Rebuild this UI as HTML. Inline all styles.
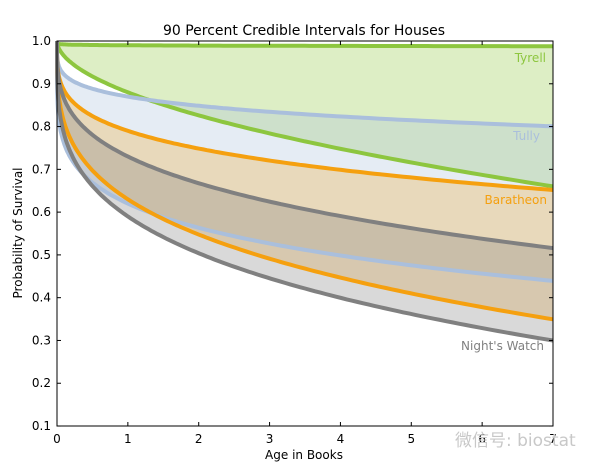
<!DOCTYPE html>
<html><head><meta charset="utf-8"><style>
body{margin:0;background:#fff;}
svg text{font-family:"DejaVu Sans","Liberation Sans","Noto Sans CJK SC",sans-serif;}
</style></head><body>
<svg id="s" width="605" height="471" xmlns="http://www.w3.org/2000/svg">
<rect width="605" height="471" fill="#fff"/>
<g id="fills"></g>
<g id="lines"></g>
<rect x="57" y="41" width="496" height="385" fill="none" stroke="#000" stroke-width="1"/>
<g id="ticks" stroke="#000" stroke-width="1"></g>
<g id="labels" font-size="12" fill="#000"></g>
<text x="304" y="35" font-size="14" text-anchor="middle">90 Percent Credible Intervals for Houses</text>
<text x="304" y="459" font-size="12" text-anchor="middle">Age in Books</text>
<text transform="translate(22,233) rotate(-90)" font-size="12" text-anchor="middle">Probability of Survival</text>
<text x="546" y="62" font-size="12" text-anchor="end" fill="#8dc63f">Tyrell</text>
<text x="540" y="140" font-size="12" text-anchor="end" fill="#aabfdc">Tully</text>
<text x="547" y="204" font-size="12" text-anchor="end" fill="#f5a00f">Baratheon</text>
<text x="544" y="350" font-size="12" text-anchor="end" fill="#808080">Night's Watch</text>
<text x="455" y="446" font-size="17" fill="#c8c8c8">微信号: biostat</text>
</svg>
<script>
var X=function(t){return 57+t*496/7;},Y=function(v){return 41+(1-v)*427.8;};
function curve(a,p,c){var pts=[];for(var i=0;i<=140;i++){var t=7*Math.pow(i/140,2);var v=(c||1)-a*Math.pow(t,p);pts.push([X(t),Y(v)]);}return pts;}
var houses=[
 {c:'#8dc63f',f:'rgba(141,198,63,0.3)',u:[0.01,0.1],l:[0.12,0.535]},
 {c:'#aabfdc',f:'rgba(170,191,220,0.3)',u:[0.13,0.22],l:[0.38,0.2]},
 {c:'#f5a00f',f:'rgba(245,160,15,0.25)',u:[0.21,0.26],l:[0.37,0.29]},
 {c:'#808080',f:'rgba(128,128,128,0.3)',u:[0.27,0.30],l:[0.41,0.275]}
];
var F='',L='';
houses.forEach(function(h){
 var up=curve(h.u[0],h.u[1]),lo=curve(h.l[0],h.l[1]);
 var d='M'+up.map(function(p){return p[0].toFixed(1)+','+p[1].toFixed(1)}).join('L');
 var dl='M'+lo.map(function(p){return p[0].toFixed(1)+','+p[1].toFixed(1)}).join('L');
 var rl=lo.slice().reverse().map(function(p){return p[0].toFixed(1)+','+p[1].toFixed(1)}).join('L');
 F+='<path d="'+d+'L'+rl+'Z" fill="'+h.f+'"/>';
 L+='<path d="'+d+'" fill="none" stroke="'+h.c+'" stroke-width="4"/><path d="'+dl+'" fill="none" stroke="'+h.c+'" stroke-width="4"/>';
});
document.getElementById('fills').innerHTML=F;
document.getElementById('lines').innerHTML=L;
var T='',Lb='';
for(var i=0;i<=7;i++){var x=X(i);T+='<line x1="'+x+'" y1="426" x2="'+x+'" y2="422"/><line x1="'+x+'" y1="41" x2="'+x+'" y2="45"/>';Lb+='<text x="'+x+'" y="443" text-anchor="middle">'+i+'</text>';}
for(var j=1;j<=10;j++){var v=j/10,y=Y(v);T+='<line x1="57" y1="'+y+'" x2="61" y2="'+y+'"/><line x1="553" y1="'+y+'" x2="549" y2="'+y+'"/>';Lb+='<text x="51" y="'+(y+4)+'" text-anchor="end">'+v.toFixed(1)+'</text>';}
document.getElementById('ticks').innerHTML=T;
document.getElementById('labels').innerHTML=Lb;
</script>
</body></html>
